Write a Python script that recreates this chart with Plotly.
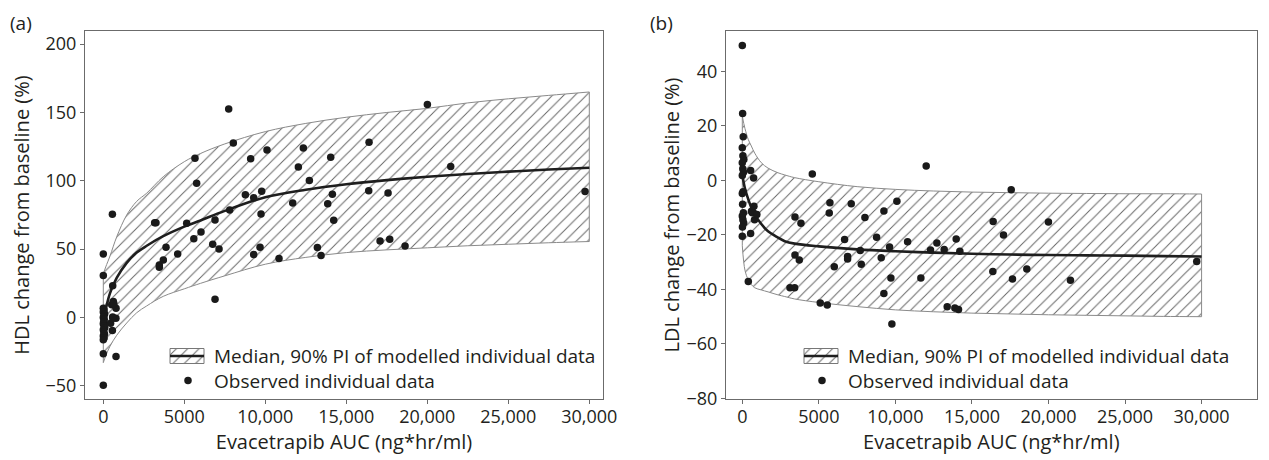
import plotly.graph_objects as go

# ---------------- data ----------------
# (a) HDL: observed individual data
hdl_obs_x = [0, 50, 0, 80, 30, 0, 60, 20, 0, 40, 90, 0, 30, 70, 0, 50, 0,
             0, 0, 0, 0,
             560, 580, 620, 520, 785, 580, 780, 450, 560, 785, 650, 600,
             3171, 3250, 5147, 6897, 7803, 6031, 5587, 3871, 4591, 3706, 3459, 3459,
             6753, 7144, 9675, 9283, 10847, 13214, 13441, 17084, 17681, 18627, 6897,
             7740, 20005, 8026, 5659, 5762, 9097, 10105, 12348, 12040, 14037, 16405,
             21446, 12721, 8769, 9283, 9777, 9736, 11692, 13853, 14141, 14223, 16384,
             17578, 29740]
hdl_obs_y = [6.8, 5.5, 4, 2.5, 1, 0, -1.5, -3, -4.5, -6, -7.5, -9, -10.5, -12, -13.5, -15, -16.3,
             46.5, 30.7, -26.5, -49.6,
             75.5, 23.2, 11.7, 9.3, 6.8, 0.3, -0.5, -4.1, -9.5, -28.5, 10, -0.6,
             69.4, 69.4, 69.0, 71.4, 78.7, 62.6, 57.7, 51.4, 46.5, 42.1, 38.5, 36.8,
             53.6, 50.2, 51.4, 46.1, 43.1, 51.2, 45.3, 56.0, 57.2, 52.4, 13.4,
             152.5, 155.9, 127.7, 116.5, 98.2, 116.2, 122.6, 124.0, 110.1, 117.2, 128.2,
             110.4, 100.2, 89.9, 87.7, 92.3, 75.7, 83.8, 83.3, 90.1, 71.1, 92.8,
             91.1, 92.1]

# (a) HDL: modelled median and 90% PI
hdl_band_x = [0, 150, 414, 827, 1444, 2062, 2680, 3700, 5000, 6000, 7500, 10000,
              12500, 15000, 17500, 20000, 22500, 25000, 27500, 30000]
hdl_med = [-2, 6, 17.8, 29, 40, 47.5, 52.5, 59.5, 66.5, 71, 78, 88,
           93.5, 97.5, 100.5, 103, 105, 106.7, 108.3, 109.6]
hdl_hi = [32, 37, 45, 59, 75, 85, 91, 103, 114, 120, 127, 136,
          142, 146.5, 150, 153, 157, 160, 162.5, 165]
hdl_lo = [-33, -28, -21, -13, -4, 3.5, 8.5, 15.5, 21, 25, 30.5, 39,
          44, 47.5, 49.5, 51, 52.5, 53.6, 54.7, 55.6]

# (b) LDL: observed individual data
ldl_obs_x = [0, 20, 60, 0, 40, 100, 0, 30, 80, 0, 50, 0, 20, 70, 0, 40, 90, 10, 0,
             392, 544, 740, 544, 600, 700, 800, 650, 950, 760,
             4572, 12012, 17564, 3440, 3831, 5723, 5680, 7116, 8009, 9249, 10098,
             6682, 8772, 10796, 7705, 6878, 6878, 7770, 9075, 9618, 3440, 3722, 6007,
             3114, 3418, 5093, 5550, 9249, 9706, 9771, 11664, 12295, 12709, 13187,
             13971, 14210, 13383, 13883, 14122, 16386, 17060, 16364, 17648, 18584,
             19998, 21434, 29682]
ldl_obs_y = [49.5, 24.5, 16, 12, 9, 7.7, 6.5, 4.3, 3, 1.8, -4.2, -4.8, -8.8, -11.9,
             -13.1, -14.4, -15.6, -17.1, -20.5,
             -37.1, 3.6, 0.9, -19.5, -11.3, -11.7, -14.4, -11.9, -12.5, -9.5,
             2.3, 5.3, -3.4, -13.4, -15.7, -8.2, -12.0, -8.6, -13.6, -11.2, -7.7,
             -21.7, -20.9, -22.5, -25.7, -27.9, -28.8, -30.8, -28.4, -24.4, -27.4, -29.2, -31.7,
             -39.4, -39.4, -45.0, -45.7, -41.5, -35.8, -52.7, -35.8, -25.5, -23.0, -25.4,
             -21.5, -26.0, -46.4, -46.8, -47.4, -15.1, -20.0, -33.4, -36.2, -32.5,
             -15.3, -36.6, -29.8]

# (b) LDL: modelled median and 90% PI
ldl_band_x = [0, 175, 390, 590, 810, 1240, 1680, 2330, 2770, 3420, 5000, 7500,
              10000, 12500, 15000, 17500, 20000, 22500, 25000, 27500, 30000]
ldl_med = [2, -3, -7, -10, -12.5, -16, -18.7, -21, -22.3, -23.2, -24.2, -25.3,
           -26, -26.5, -26.9, -27.2, -27.4, -27.5, -27.6, -27.8, -27.9]
ldl_hi = [23.5, 19, 15, 12.6, 10, 6.5, 4.5, 2.8, 2, 1.0, -0.5, -2.3,
          -3.3, -3.9, -4.3, -4.5, -4.7, -4.8, -4.9, -4.9, -5.0]
ldl_lo = [-24, -33, -36.5, -38.2, -39.4, -40.2, -40.9, -42, -42.6, -43.5, -44.8, -46.3,
          -47.5, -48.2, -48.7, -49, -49.3, -49.5, -49.7, -49.9, -50]

x_tickvals = [0, 5000, 10000, 15000, 20000, 25000, 30000]
x_ticktext = ["0", "5000", "10,000", "15,000", "20,000", "25,000", "30,000"]
hdl_tickvals = [-50, 0, 50, 100, 150, 200]
hdl_ticktext = ["\u221250", "0", "50", "100", "150", "200"]
ldl_tickvals = [-80, -60, -40, -20, 0, 20, 40]
ldl_ticktext = ["\u221280", "\u221260", "\u221240", "\u221220", "0", "20", "40"]

band_label = "Median, 90% PI of modelled individual data"
obs_label = "Observed individual data"
x_title = "Evacetrapib AUC (ng*hr/ml)"

# ---------------- page geometry ----------------
# The page body has an 8px default margin, so the figure starts at (8, 8) in the window;
# the figure is sized to reach the right and bottom edges of the 1269x460 window.
OFF = 8
W, H = 1269 - OFF, 460 - OFF


def px(X):
    return (X - OFF) / W


def py(Y):
    return 1 - (Y - OFF) / H


# ---------------- style ----------------
FONT = "Open Sans"
TXT = "#231f20"
AX = "#6b6b6b"
BAND_LINE = "#8a8a8a"
MED = "#1e1e1e"
DOT = "#1a1a1a"
HATCH = dict(shape="/", fgcolor="#666666", bgcolor="white", size=8, solidity=0.12)
TICK_SIZE, TITLE_SIZE, LEG_SIZE = 18, 20, 19

fig = go.Figure()


def add_panel(xa, ya, bx, lo, hi, med, ox, oy, name):
    fig.add_trace(go.Scatter(x=bx, y=lo, mode="lines", line=dict(color=BAND_LINE, width=1, shape="spline"),
                             xaxis=xa, yaxis=ya, showlegend=False, hoverinfo="skip"))
    fig.add_trace(go.Scatter(x=bx, y=hi, mode="lines", line=dict(color=BAND_LINE, width=1, shape="spline"),
                             fill="tonexty", fillpattern=HATCH, fillcolor="white",
                             xaxis=xa, yaxis=ya, showlegend=False, name=name + " 90% PI"))
    # closing edges of the PI band at both ends
    for i in (0, -1):
        fig.add_trace(go.Scatter(x=[bx[i], bx[i]], y=[lo[i], hi[i]], mode="lines",
                                 line=dict(color=BAND_LINE, width=1), xaxis=xa, yaxis=ya,
                                 showlegend=False, hoverinfo="skip"))
    fig.add_trace(go.Scatter(x=bx, y=med, mode="lines", line=dict(color=MED, width=2.6, shape="spline"),
                             xaxis=xa, yaxis=ya, showlegend=False, name=name + " median"))
    fig.add_trace(go.Scatter(x=ox, y=oy, mode="markers", name=name + " observed",
                             marker=dict(color=DOT, size=7.5),
                             xaxis=xa, yaxis=ya, showlegend=False))


add_panel("x", "y", hdl_band_x, hdl_lo, hdl_hi, hdl_med, hdl_obs_x, hdl_obs_y, "HDL")
add_panel("x2", "y2", ldl_band_x, ldl_lo, ldl_hi, ldl_med, ldl_obs_x, ldl_obs_y, "LDL")

# ---------------- legend keys (drawn on a hidden full-page pixel axis) ----------------
legend_key_left = [170, 804]      # left edge of each panel's legend key (window px)
KEY_W, KEY_TOP, KEY_BOT = 34, 348.5, 363.5
ROW1, ROW2 = 356, 380.5
annotations = []
for kx in legend_key_left:
    fig.add_trace(go.Scatter(x=[kx, kx + KEY_W, kx + KEY_W, kx, kx],
                             y=[KEY_TOP, KEY_TOP, KEY_BOT, KEY_BOT, KEY_TOP],
                             mode="lines", fill="toself", fillpattern=HATCH, fillcolor="white",
                             line=dict(color="#777777", width=1), xaxis="x3", yaxis="y3",
                             showlegend=False, hoverinfo="skip"))
    fig.add_trace(go.Scatter(x=[kx, kx + KEY_W], y=[ROW1, ROW1], mode="lines",
                             line=dict(color=MED, width=2.6), xaxis="x3", yaxis="y3",
                             showlegend=False, hoverinfo="skip"))
    fig.add_trace(go.Scatter(x=[kx + KEY_W / 2 + 1], y=[ROW2], mode="markers",
                             marker=dict(color=DOT, size=7.5), xaxis="x3", yaxis="y3",
                             showlegend=False, hoverinfo="skip"))
    for txt, ry in ((band_label, ROW1), (obs_label, ROW2)):
        annotations.append(dict(text=txt, x=kx + KEY_W + 8, y=ry, xref="x3", yref="y3",
                                xanchor="left", yanchor="middle", showarrow=False,
                                font=dict(family=FONT, size=LEG_SIZE, color=TXT)))

annotations += [
    dict(text="(a)", x=px(8), y=1, xref="paper", yref="paper", xanchor="left",
         yanchor="top", showarrow=False, font=dict(family=FONT, size=LEG_SIZE, color=TXT)),
    dict(text="(b)", x=px(648), y=1, xref="paper", yref="paper", xanchor="left",
         yanchor="top", showarrow=False, font=dict(family=FONT, size=LEG_SIZE, color=TXT)),
]

axis_common = dict(showline=True, linecolor=AX, linewidth=1, mirror=True, ticks="outside",
                   ticklen=4, tickcolor=AX, tickwidth=1, showgrid=False, zeroline=False,
                   automargin=False,
                   tickfont=dict(family=FONT, size=TICK_SIZE, color=TXT),
                   title_font=dict(family=FONT, size=TITLE_SIZE, color=TXT))

fig.update_layout(
    template="none",
    width=W, height=H,
    margin=dict(l=0, r=0, t=0, b=0),
    paper_bgcolor="white", plot_bgcolor="rgba(0,0,0,0)",
    font=dict(family=FONT, color=TXT),
    showlegend=False,
    xaxis=dict(domain=[px(85), px(603)], range=[-1130, 30846], tickvals=x_tickvals, ticktext=x_ticktext,
               anchor="y", ticklabelstandoff=-3, title=dict(text=x_title, standoff=1), **axis_common),
    yaxis=dict(domain=[py(399), py(31)], range=[-59.6, 209.6], tickvals=hdl_tickvals,
               ticktext=hdl_ticktext, anchor="x",
               title=dict(text="HDL change from baseline (%)", standoff=10), **axis_common),
    xaxis2=dict(domain=[px(726), px(1256.7)], range=[-1065, 33600], tickvals=x_tickvals, ticktext=x_ticktext,
                anchor="y2", ticklabelstandoff=-3, title=dict(text=x_title, standoff=1), **axis_common),
    yaxis2=dict(domain=[py(399), py(31)], range=[-80.2, 54.8], tickvals=ldl_tickvals,
                ticktext=ldl_ticktext, anchor="x2",
                title=dict(text="LDL change from baseline (%)", standoff=1), **axis_common),
    xaxis3=dict(domain=[0, 1], range=[OFF, OFF + W], visible=False, fixedrange=True, anchor="y3"),
    yaxis3=dict(domain=[0, 1], range=[OFF + H, OFF], visible=False, fixedrange=True, anchor="x3"),
    annotations=annotations,
)

fig.write_html("out.html")
